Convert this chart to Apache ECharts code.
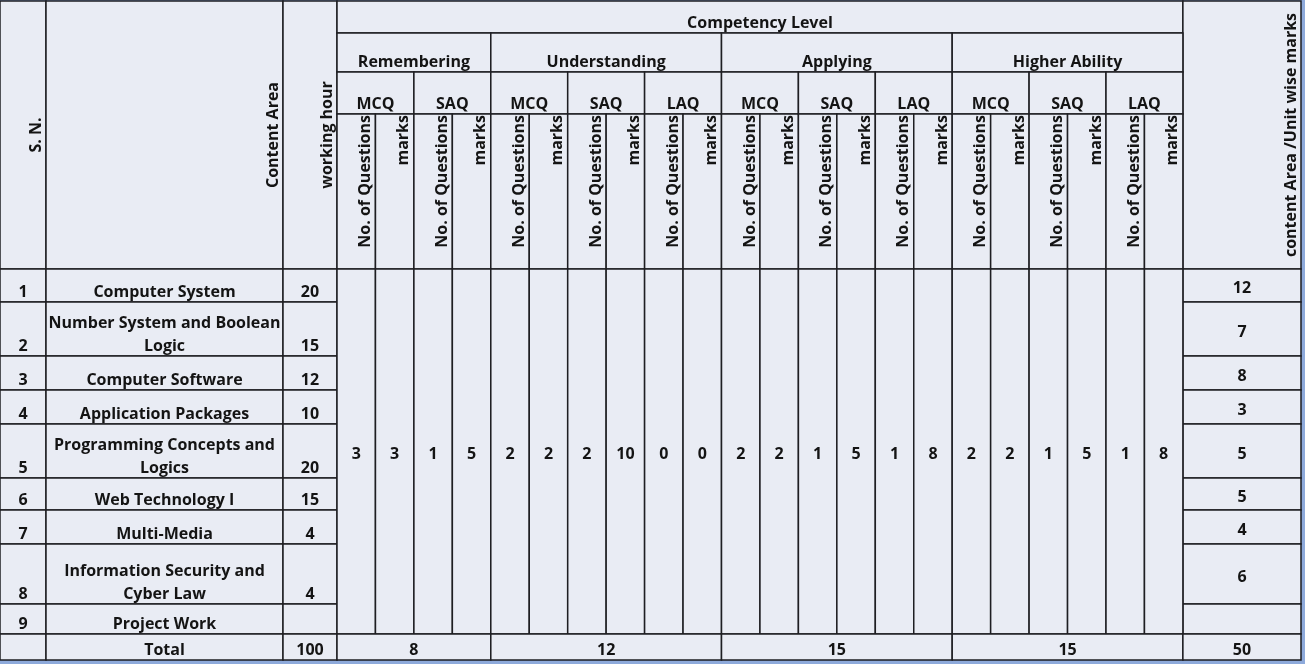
<!DOCTYPE html>
<html>
<head>
<meta charset="utf-8">
<script src="https://cdn.jsdelivr.net/npm/echarts@6/dist/echarts.min.js"></script>
<style>
  html, body { margin: 0; padding: 0; background: #8eaadb; }
  #chart { width: 1305px; height: 664px; }
</style>
</head>
<body>
<div id="chart"></div>
<script>
// table content
const serialNo = ['1', '2', '3', '4', '5', '6', '7', '8', '9'];
const contentArea = [
  'Computer System',
  'Number System and Boolean\nLogic',
  'Computer Software',
  'Application Packages',
  'Programming Concepts and\nLogics',
  'Web Technology I',
  'Multi-Media',
  'Information Security and\nCyber Law',
  'Project Work'
];
const workingHours = ['20', '15', '12', '10', '20', '15', '4', '4', ''];
const unitMarks = ['12', '7', '8', '3', '5', '5', '4', '6', ''];
const competencyLevels = ['Remembering', 'Understanding', 'Applying', 'Higher Ability'];
const questionTypes = [['MCQ', 'SAQ'], ['MCQ', 'SAQ', 'LAQ'], ['MCQ', 'SAQ', 'LAQ'], ['MCQ', 'SAQ', 'LAQ']];
const subHeads = ['No. of Questions', 'marks'];
const distribution = [3, 3, 1, 5, 2, 2, 2, 10, 0, 0, 2, 2, 1, 5, 1, 8, 2, 2, 1, 5, 1, 8];
const levelTotals = [8, 12, 15, 15];
const totalHours = 100;
const totalMarks = 50;

// layout (px units of the table)
const layout = {
  snRight: 46, areaRight: 283, hourRight: 337,
  subW: 38.45, rightEdge: 1301,
  headRows: [1, 33, 72, 114, 269],
  bodyRows: [269, 302, 356, 390, 424, 478, 510, 544, 604, 634, 660]
};

const FONT = '700 16px "Open Sans", "Noto Sans", sans-serif';
const cells = [];
function cell(x0, y0, x1, y1, text, opt) {
  cells.push(Object.assign({ x0, y0, x1, y1, text: String(text) }, opt || {}));
}

const L = layout;
const hr = L.headRows;
const subX = i => L.hourRight + i * L.subW;
const nSub = distribution.length;
const midRight = subX(nSub);

// header
cell(0, hr[0], L.snRight, hr[4], 'S. N.', { rot: 'center' });
cell(L.snRight, hr[0], L.areaRight, hr[4], 'Content Area', { rot: 'center' });
cell(L.areaRight, hr[0], L.hourRight, hr[4], 'working hour', { rot: 'center' });
cell(L.hourRight, hr[0], midRight, hr[1], 'Competency Level');
cell(midRight, hr[0], L.rightEdge, hr[4], 'content Area /Unit wise marks', { rot: 'center' });
let k = 0;
competencyLevels.forEach((lvl, li) => {
  const types = questionTypes[li];
  cell(subX(k), hr[1], subX(k + types.length * 2), hr[2], lvl);
  types.forEach(t => {
    cell(subX(k), hr[2], subX(k + 2), hr[3], t);
    subHeads.forEach((s, si) => {
      cell(subX(k + si), hr[3], subX(k + si + 1), hr[4], s, { rot: 'top' });
    });
    k += 2;
  });
});

// body rows
const br = L.bodyRows;
serialNo.forEach((sn, i) => {
  cell(0, br[i], L.snRight, br[i + 1], sn);
  cell(L.snRight, br[i], L.areaRight, br[i + 1], contentArea[i]);
  cell(L.areaRight, br[i], L.hourRight, br[i + 1], workingHours[i]);
  cell(midRight, br[i], L.rightEdge, br[i + 1], unitMarks[i], { mid: true });
});
distribution.forEach((v, i) => {
  cell(subX(i), br[0], subX(i + 1), br[serialNo.length], v, { mid: true });
});

// total row
const tr0 = br[serialNo.length], tr1 = br[serialNo.length + 1];
cell(0, tr0, L.snRight, tr1, '');
cell(L.snRight, tr0, L.areaRight, tr1, 'Total');
cell(L.areaRight, tr0, L.hourRight, tr1, totalHours);
k = 0;
levelTotals.forEach((t, li) => {
  const span = questionTypes[li].length * 2;
  cell(subX(k), tr0, subX(k + span), tr1, t);
  k += span;
});
cell(midRight, tr0, L.rightEdge, tr1, totalMarks);

function renderItem(params, api) {
  const c = cells[params.dataIndex];
  const p0 = api.coord([c.x0, c.y0]);
  const p1 = api.coord([c.x1, c.y1]);
  const children = [{
    type: 'rect',
    shape: { x: p0[0], y: p0[1], width: p1[0] - p0[0], height: p1[1] - p0[1] },
    style: { fill: '#e9ecf4', stroke: '#1e1e22', lineWidth: 1.5 }
  }];
  if (c.text) {
    let t;
    if (c.rot) {
      t = {
        type: 'text',
        x: p1[0] - 2,
        y: c.rot === 'top' ? p0[1] + 1 : (p0[1] + p1[1]) / 2,
        rotation: Math.PI / 2,
        style: {
          text: c.text, font: FONT, fill: '#141414',
          align: c.rot === 'top' ? 'right' : 'center', verticalAlign: 'bottom'
        }
      };
    } else {
      t = {
        type: 'text',
        x: (p0[0] + p1[0]) / 2,
        y: c.mid ? (p0[1] + p1[1]) / 2 + 3 : p1[1] + 2,
        style: {
          text: c.text, font: FONT, fill: '#141414', lineHeight: 23,
          align: 'center', verticalAlign: c.mid ? 'middle' : 'bottom'
        }
      };
    }
    children.push(t);
  }
  return { type: 'group', children };
}

const chart = echarts.init(document.getElementById('chart'));
chart.setOption({
  animation: false,
  grid: { left: 0, top: 0, width: 1305, height: 664 },
  xAxis: { type: 'value', min: 0, max: 1305, show: false },
  yAxis: { type: 'value', min: 0, max: 664, inverse: true, show: false },
  series: [{
    type: 'custom',
    renderItem,
    clip: false,
    encode: { x: [0, 2], y: [1, 3] },
    data: cells.map(c => [c.x0, c.y0, c.x1, c.y1])
  }]
});
</script>
</body>
</html>
